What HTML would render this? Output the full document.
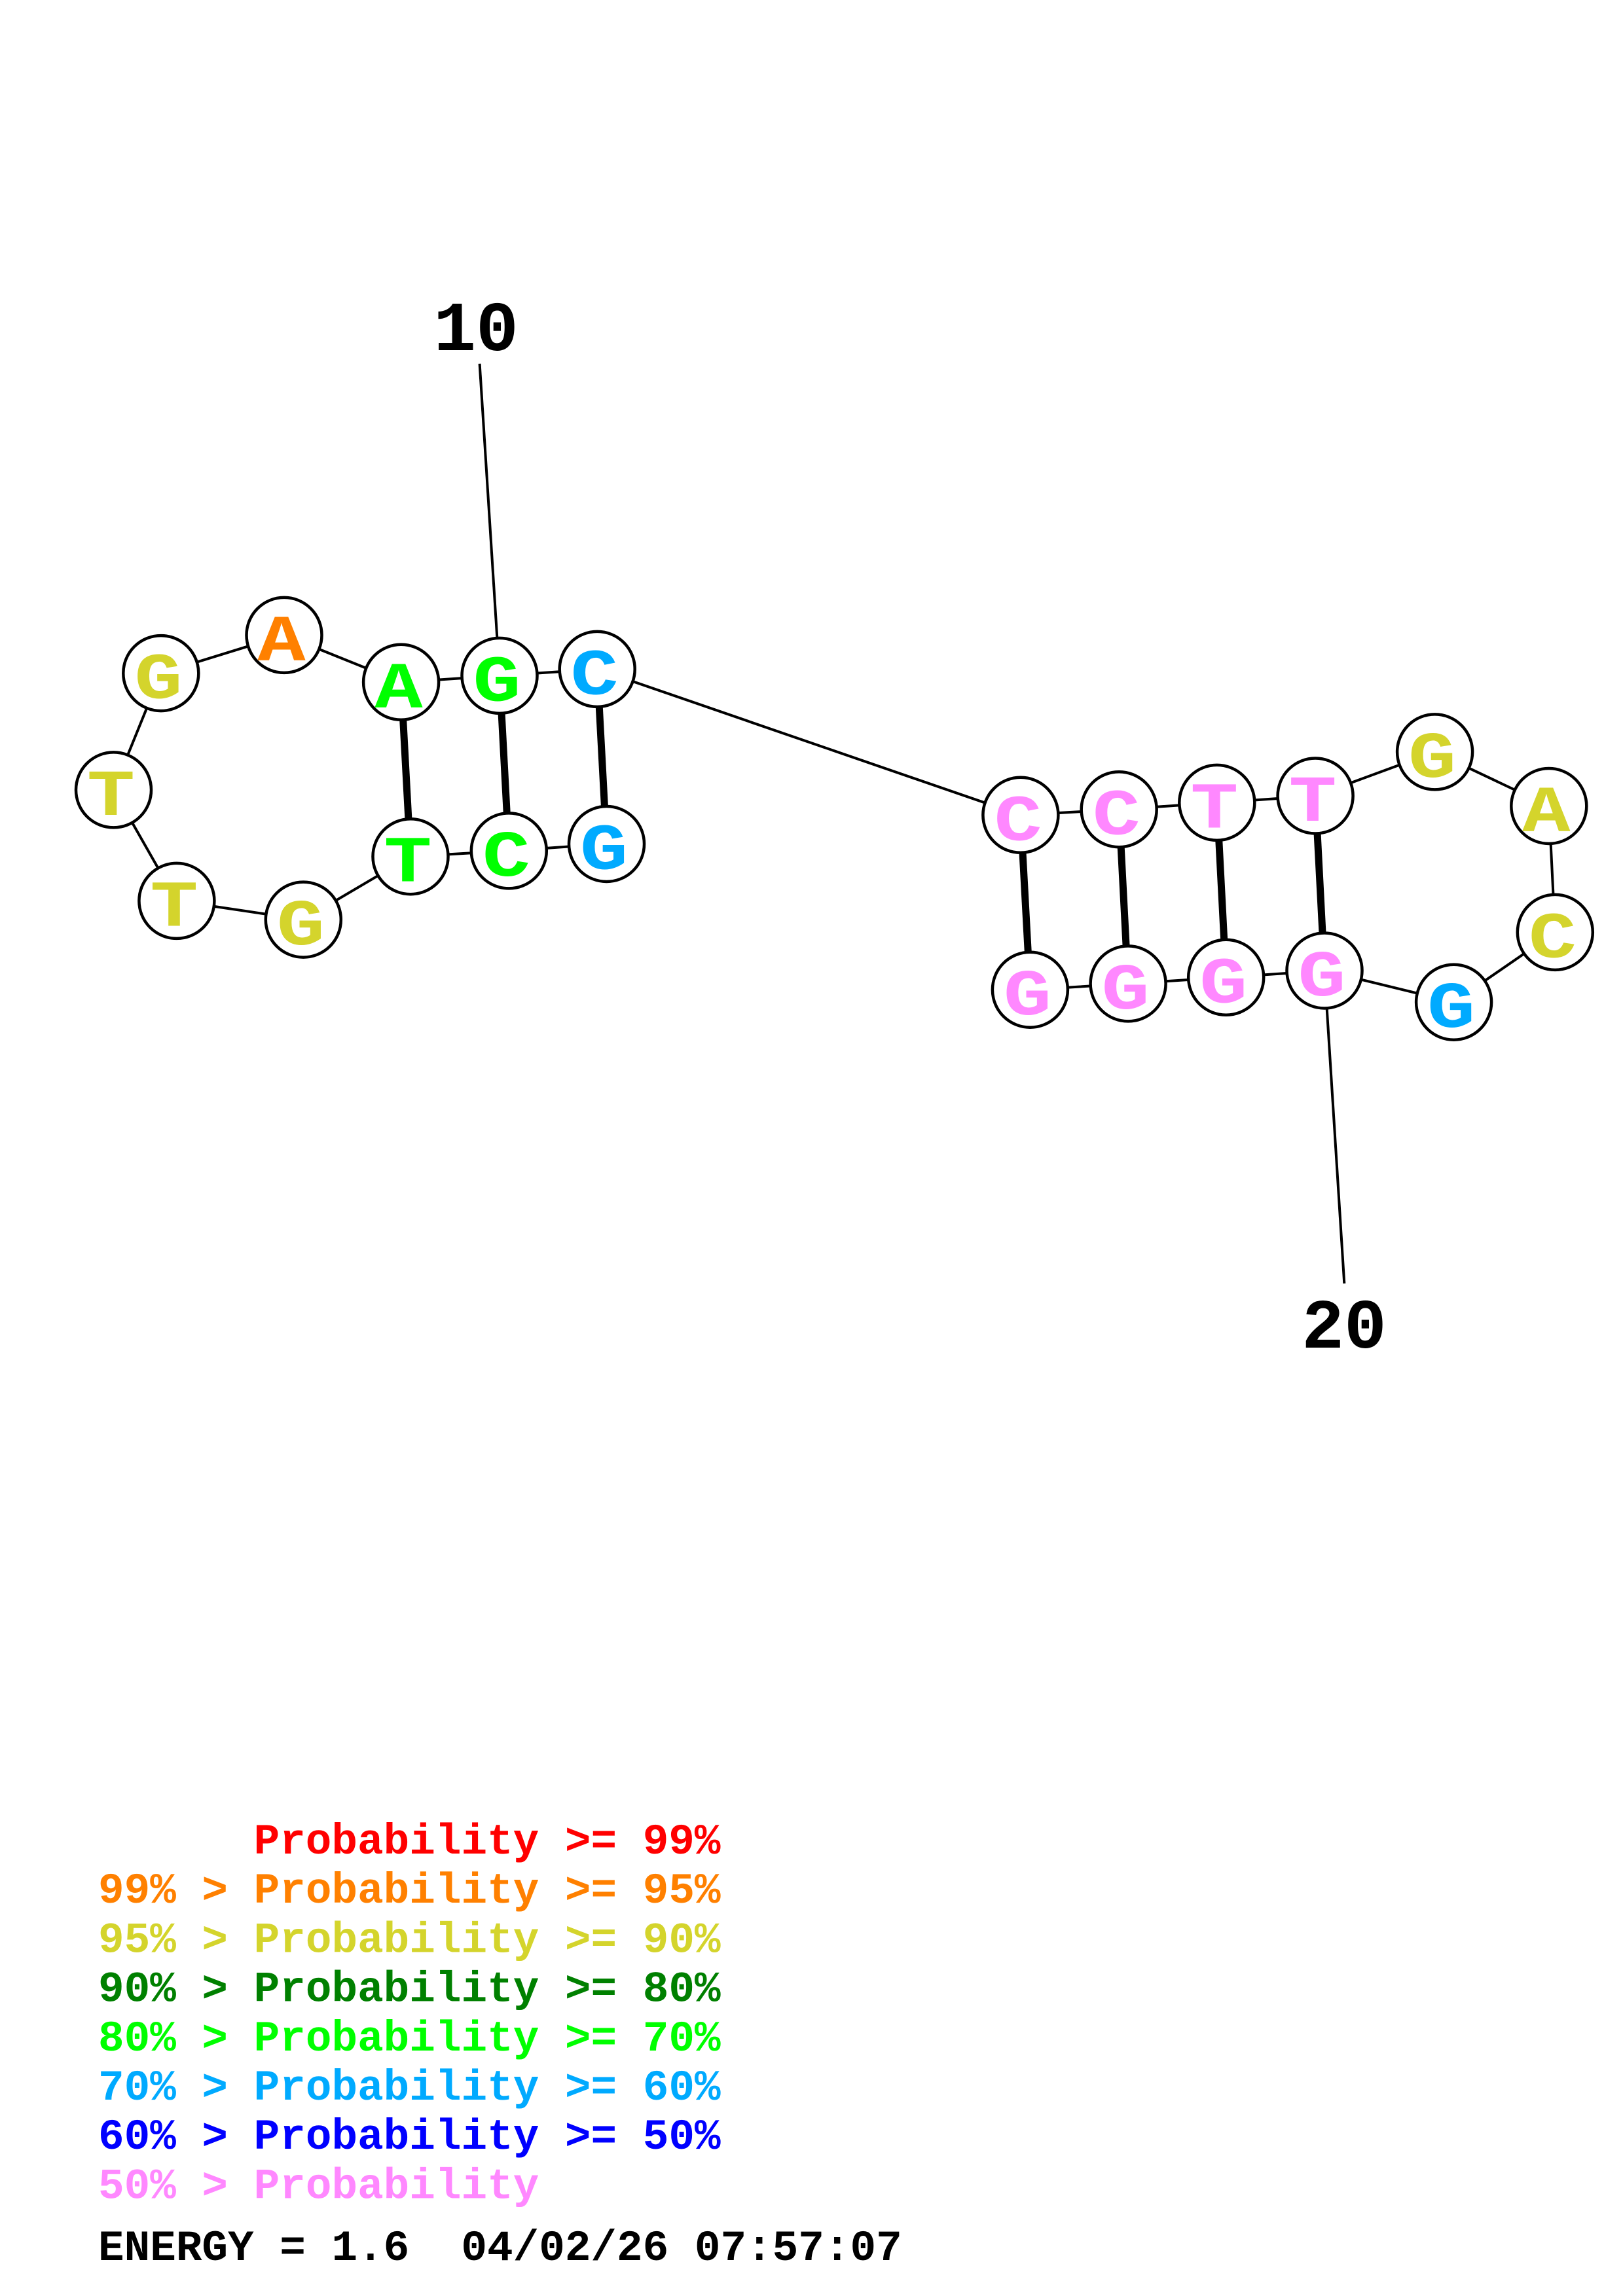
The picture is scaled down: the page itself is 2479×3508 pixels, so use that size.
<!DOCTYPE html>
<html><head><meta charset="utf-8"><style>
html,body{margin:0;padding:0;background:#fff;}
svg{display:block;}
.n{font-family:"Liberation Mono",monospace;font-weight:bold;font-size:100px;text-anchor:middle;}
.lab{font-family:"Liberation Mono",monospace;font-weight:bold;font-size:108px;text-anchor:middle;fill:#000;}
.lg{font-family:"Liberation Mono",monospace;font-weight:bold;font-size:66px;}
</style></head><body>
<svg width="2479" height="3508" viewBox="0 0 2479 3508" xmlns="http://www.w3.org/2000/svg">
<rect width="2479" height="3508" fill="#fff"/>
<g stroke="#000" stroke-width="4" fill="none">
<line x1="732.6" y1="555.7" x2="763" y2="1032.4"/>
<line x1="2023" y1="1483" x2="2053.3" y2="1961"/>
<polyline points="245.8,1028.6 434,970.4 612.6,1042.3 763,1032.4 912.2,1022.4 1558.9,1245.3 1709.2,1236.7 1858.8,1226.4 2009.1,1216 2191.6,1148.9 2365.8,1231.5 2375.3,1424.4 2220.6,1531.2 2023,1483 1872.7,1493.3 1723.1,1502.9 1573.4,1512.2"/>
<polyline points="245.8,1028.6 173.5,1206.9 269.9,1376.4 463.3,1405.1 627,1308.7 777.3,1299.9 926.5,1289.5"/>
</g>
<g stroke="#000" stroke-width="11">
<line x1="612.6" y1="1042.3" x2="627" y2="1308.7"/>
<line x1="763" y1="1032.4" x2="777.3" y2="1299.9"/>
<line x1="912.2" y1="1022.4" x2="926.5" y2="1289.5"/>
<line x1="1558.9" y1="1245.3" x2="1573.4" y2="1512.2"/>
<line x1="1709.2" y1="1236.7" x2="1723.1" y2="1502.9"/>
<line x1="1858.8" y1="1226.4" x2="1872.7" y2="1493.3"/>
<line x1="2009.1" y1="1216" x2="2023" y2="1483"/>
</g>
<g fill="#fff" stroke="#000" stroke-width="4.5">
<circle cx="245.8" cy="1028.6" r="57.5"/>
<circle cx="434" cy="970.4" r="57.5"/>
<circle cx="612.6" cy="1042.3" r="57.5"/>
<circle cx="763" cy="1032.4" r="57.5"/>
<circle cx="912.2" cy="1022.4" r="57.5"/>
<circle cx="173.5" cy="1206.9" r="57.5"/>
<circle cx="269.9" cy="1376.4" r="57.5"/>
<circle cx="463.3" cy="1405.1" r="57.5"/>
<circle cx="627" cy="1308.7" r="57.5"/>
<circle cx="777.3" cy="1299.9" r="57.5"/>
<circle cx="926.5" cy="1289.5" r="57.5"/>
<circle cx="1558.9" cy="1245.3" r="57.5"/>
<circle cx="1709.2" cy="1236.7" r="57.5"/>
<circle cx="1858.8" cy="1226.4" r="57.5"/>
<circle cx="2009.1" cy="1216" r="57.5"/>
<circle cx="2191.6" cy="1148.9" r="57.5"/>
<circle cx="2365.8" cy="1231.5" r="57.5"/>
<circle cx="2375.3" cy="1424.4" r="57.5"/>
<circle cx="2220.6" cy="1531.2" r="57.5"/>
<circle cx="2023" cy="1483" r="57.5"/>
<circle cx="1872.7" cy="1493.3" r="57.5"/>
<circle cx="1723.1" cy="1502.9" r="57.5"/>
<circle cx="1573.4" cy="1512.2" r="57.5"/>
</g>
<g class="n">
<text transform="translate(242,1066.6) scale(1.22,1)" fill="#d4d42c">G</text>
<text transform="translate(430,1008.4) scale(1.22,1)" fill="#ff8000">A</text>
<text transform="translate(609,1080.3) scale(1.22,1)" fill="#00ff00">A</text>
<text transform="translate(759,1070.4) scale(1.22,1)" fill="#00ff00">G</text>
<text transform="translate(908,1060.4) scale(1.22,1)" fill="#00aaff">C</text>
<text transform="translate(169.5,1244.9) scale(1.22,1)" fill="#d4d42c">T</text>
<text transform="translate(266,1414.4) scale(1.22,1)" fill="#d4d42c">T</text>
<text transform="translate(459.3,1443.1) scale(1.22,1)" fill="#d4d42c">G</text>
<text transform="translate(623,1346.7) scale(1.22,1)" fill="#00ff00">T</text>
<text transform="translate(773.3,1337.9) scale(1.22,1)" fill="#00ff00">C</text>
<text transform="translate(922.5,1327.5) scale(1.22,1)" fill="#00aaff">G</text>
<text transform="translate(1555,1283.3) scale(1.22,1)" fill="#ff88ff">C</text>
<text transform="translate(1705.2,1274.7) scale(1.22,1)" fill="#ff88ff">C</text>
<text transform="translate(1854.8,1264.4) scale(1.22,1)" fill="#ff88ff">T</text>
<text transform="translate(2005.1,1254) scale(1.22,1)" fill="#ff88ff">T</text>
<text transform="translate(2187.6,1186.9) scale(1.22,1)" fill="#d4d42c">G</text>
<text transform="translate(2361.8,1269.5) scale(1.22,1)" fill="#d4d42c">A</text>
<text transform="translate(2371.3,1462.4) scale(1.22,1)" fill="#d4d42c">C</text>
<text transform="translate(2216.6,1569.2) scale(1.22,1)" fill="#00aaff">G</text>
<text transform="translate(2019,1521) scale(1.22,1)" fill="#ff88ff">G</text>
<text transform="translate(1868.7,1531.3) scale(1.22,1)" fill="#ff88ff">G</text>
<text transform="translate(1719.1,1540.9) scale(1.22,1)" fill="#ff88ff">G</text>
<text transform="translate(1569.4,1550.2) scale(1.22,1)" fill="#ff88ff">G</text>
</g>
<text class="lab" x="727" y="535">10</text>
<text class="lab" x="2053" y="2059">20</text>
<g class="lg">
<text x="387.6" y="2832" fill="#ff0000">Probability &gt;= 99%</text>
<text x="150" y="2907.2" fill="#ff8000">99% &gt; Probability &gt;= 95%</text>
<text x="150" y="2982.4" fill="#d4d42c">95% &gt; Probability &gt;= 90%</text>
<text x="150" y="3057.6" fill="#008000">90% &gt; Probability &gt;= 80%</text>
<text x="150" y="3132.8" fill="#00ff00">80% &gt; Probability &gt;= 70%</text>
<text x="150" y="3208" fill="#00aaff">70% &gt; Probability &gt;= 60%</text>
<text x="150" y="3283.2" fill="#0000ff">60% &gt; Probability &gt;= 50%</text>
<text x="150" y="3358.4" fill="#ff88ff">50% &gt; Probability</text>
<text x="150" y="3453" fill="#000">ENERGY = 1.6</text>
<text x="704.4" y="3453" fill="#000">04/02/26 07:57:07</text>
</g>
</svg>
</body></html>
